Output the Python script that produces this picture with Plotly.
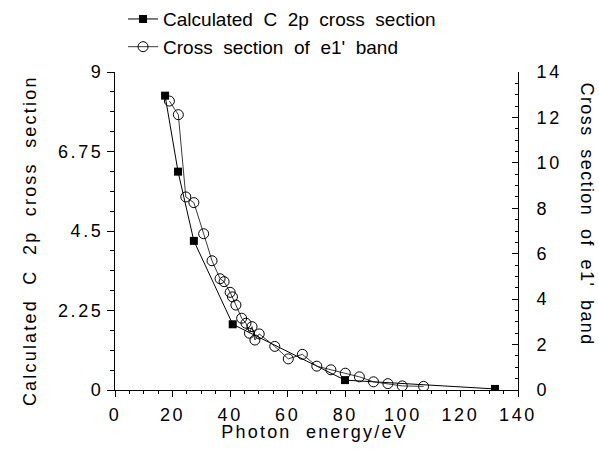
import plotly.graph_objects as go

# Calculated C 2p cross section (left axis)
calc_energy = [17.4, 21.9, 27.4, 40.9, 79.9, 132.0]
calc_sigma = [8.33, 6.18, 4.22, 1.86, 0.28, 0.03]

# Cross section of e1' band (right axis)
band_energy = [18.9, 22.0, 24.6, 27.4, 30.8, 33.7, 36.5, 37.9, 40.0, 40.8, 42.0,
               44.0, 45.5, 46.7, 47.6, 48.6, 50.1, 55.5, 60.2, 65.1, 70.1, 75.0,
               80.0, 84.9, 89.8, 94.8, 99.8, 107.2]
band_sigma = [12.72, 12.12, 8.5, 8.25, 6.88, 5.69, 4.9, 4.77, 4.3, 4.1, 3.74,
              3.16, 2.94, 2.5, 2.79, 2.2, 2.47, 1.92, 1.37, 1.57, 1.05, 0.89,
              0.74, 0.58, 0.36, 0.28, 0.18, 0.16]

left_ticks = [0, 2.25, 4.5, 6.75, 9]
left_ticktext = ["0", "2.25", "4.5", "6.75", "9"]

FONT = "Liberation Sans, Arial, Helvetica, sans-serif"
NB = "\u00a0"

fig = go.Figure()
fig.add_trace(go.Scatter(
    x=calc_energy, y=calc_sigma, mode="lines+markers",
    name=f"Calculated {NB}C {NB}2p {NB}cross {NB}section",
    line=dict(color="black", width=1),
    marker=dict(symbol="square", size=8, color="black"),
    yaxis="y",
))
fig.add_trace(go.Scatter(
    x=band_energy, y=band_sigma, mode="lines+markers",
    name=f"Cross {NB}section {NB}of {NB}e1' {NB}band",
    line=dict(color="#222", width=0.9),
    marker=dict(symbol="circle-open", size=10, color="black", line=dict(width=1)),
    yaxis="y2",
))

axis_common = dict(showline=True, linecolor="black", linewidth=1, showgrid=False,
                   zeroline=False, tickcolor="black", tickfont=dict(family=FONT, size=18, color="black"))

fig.update_layout(
    width=599, height=453,
    margin=dict(l=115, r=81, t=72, b=63, autoexpand=False),
    paper_bgcolor="white", plot_bgcolor="white",
    font=dict(family=FONT, color="black"),
    showlegend=True,
    legend=dict(
        x=0.02, y=1.226, xanchor="left", yanchor="top",
        font=dict(family=FONT, size=19, color="black"),
        bgcolor="rgba(0,0,0,0)", borderwidth=0,
        tracegroupgap=0,
    ),
    xaxis=dict(
        range=[0, 140], dtick=20, tick0=0, ticks="outside", ticklen=6,
        ticklabelstandoff=2,
        minor=dict(dtick=5, ticks="outside", ticklen=3, tickcolor="black"),
        **axis_common,
    ),
    yaxis=dict(
        range=[0, 9], tickvals=left_ticks, ticktext=left_ticktext,
        ticks="outside", ticklen=7,
        minor=dict(dtick=0.5625, tick0=0, ticks="outside", ticklen=4, tickcolor="black"),
        **axis_common,
    ),
    yaxis2=dict(
        range=[0, 14], dtick=2, tick0=0, overlaying="y", side="right", anchor="x",
        ticks="inside", ticklen=6, ticklabelstandoff=14,
        minor=dict(dtick=0.5, ticks="inside", ticklen=3, tickcolor="black"),
        **axis_common,
    ),
    annotations=[
        dict(text=f"Calculated {NB}C {NB}2p {NB}cross {NB}section", textangle=-90,
             xref="paper", yref="paper", x=-0.211, y=0.469,
             xanchor="center", yanchor="middle", showarrow=False,
             font=dict(family=FONT, size=18, color="black")),
        dict(text=f"Cross {NB}section {NB}of {NB}e1' {NB}band", textangle=90,
             xref="paper", yref="paper", x=1.172, y=0.553,
             xanchor="center", yanchor="middle", showarrow=False,
             font=dict(family=FONT, size=18, color="black")),
        dict(text=f"Photon {NB}energy/eV",
             xref="paper", yref="paper", x=0.495, y=-0.132,
             xanchor="center", yanchor="middle", showarrow=False,
             font=dict(family=FONT, size=18, color="black")),
    ],
)

post = """
document.body.style.margin = '0';
document.body.style.padding = '0';
var gd = document.getElementById('{plot_id}');
function ls(){
  gd.querySelectorAll('text').forEach(function(t){
    var c = t.getAttribute('class') || '';
    if (c.indexOf('legendtext') >= 0) { return; }
    if (c.indexOf('annotation-text') >= 0) { t.style.letterSpacing = '2.2px'; }
    else { t.style.letterSpacing = '2.6px'; }
  });
  var anns = gd.querySelectorAll('.annotation-text');
  if (anns.length > 1) { anns[1].style.letterSpacing = '1.4px'; }
}
ls();
if (gd.on) { gd.on('plotly_afterplot', ls); }
setTimeout(ls, 50); setTimeout(ls, 250); setTimeout(ls, 600);
"""

fig.write_html("out.html", post_script=post, config={"displayModeBar": False})
